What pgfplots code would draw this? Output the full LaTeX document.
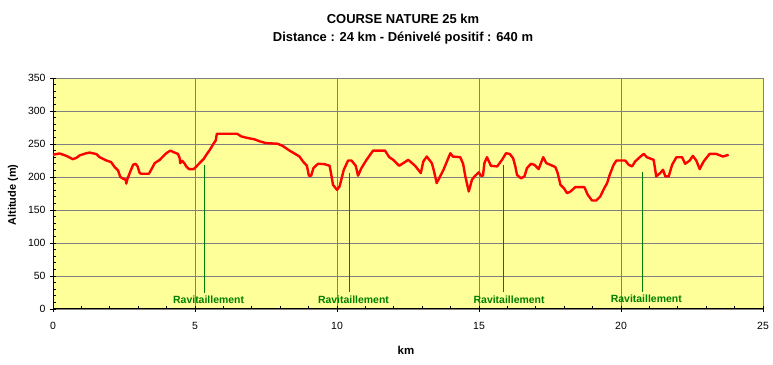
\documentclass[border=0pt]{standalone}
\usepackage{fontspec}
\setmainfont{Liberation Sans}
\usepackage{pgfplots}
\pgfplotsset{compat=1.18}
\definecolor{bgyellow}{HTML}{FFFF99}
\definecolor{gridgray}{HTML}{808080}
\definecolor{rgreen}{HTML}{008000}
\begin{document}
\begin{tikzpicture}
\path[use as bounding box] (0,0) rectangle (773bp,365bp);
\begin{axis}[
  at={(53bp,56bp)}, anchor=south west,
  scale only axis, width=710bp, height=231bp,
  xmin=0, xmax=25, ymin=0, ymax=350,
  xtick={0,5,...,25}, ytick={0,50,...,350},
  minor x tick num=4, minor y tick num=4,
  xtick pos=bottom, ytick pos=left,
  tick align=inside, major tick length=3bp, minor tick length=3bp,
  tick style={black, line width=0.8bp},
  extra x ticks={0,5,...,25}, extra x tick labels={},
  extra x tick style={tick align=outside, grid=none, major tick length=3bp},
  extra y ticks={0,50,...,350}, extra y tick labels={},
  extra y tick style={tick align=outside, grid=none, major tick length=3bp},
  grid=major, major grid style={gridgray, line width=0.8bp},
  axis x line*=bottom, axis y line*=left,
  axis line style={black, line width=1bp, -},
  axis background/.style={fill=bgyellow, draw=gridgray, line width=0.8bp},
  /pgf/number format/assume math mode=true,
  tick label style={font=\fontsize{10.5}{12}\selectfont},
  xticklabel style={yshift=-10bp},
  yticklabel style={xshift=-4bp},
  clip=false,
]
\addplot[red, line width=2.4bp, line join=round] table {
x y
0 233.7
0.23 235.7
0.47 232
0.70 227
0.82 229
0.94 232.7
1.17 236
1.29 237
1.53 234.7
1.64 230
1.88 225
2.05 222.5
2.17 215
2.29 210
2.37 200
2.49 197
2.56 196
2.58 190
2.62 197
2.72 208
2.82 218.5
2.91 220
2.98 216
3.05 206
3.11 205
3.38 205
3.52 216
3.58 221
3.76 226
3.87 231
3.99 236
4.13 240
4.28 237
4.40 235
4.46 228.6
4.48 221
4.55 224.6
4.64 220
4.69 216
4.79 212
4.95 212
5.05 216
5.16 221
5.31 227.6
5.40 233.7
5.52 241
5.63 249
5.73 255.4
5.77 265.6
6.10 265.6
6.48 265.6
6.63 261.5
6.81 259.5
7.10 257
7.28 254
7.50 251.4
7.91 250.4
8.09 247
8.33 240
8.68 231
8.80 223.6
8.94 217
9.01 202
9.09 202
9.17 213.5
9.33 220
9.56 219.5
9.74 217
9.80 203
9.86 188
10.00 180.6
10.09 185.6
10.24 211
10.39 225
10.51 225
10.66 217
10.74 202
10.86 213.5
11.04 226
11.27 240
11.69 240
11.84 230
11.98 226
12.19 217
12.51 226
12.75 217
12.95 206
13.04 223.6
13.16 231
13.34 221
13.42 208
13.51 190.7
13.63 200.8
13.75 211
13.99 236
14.08 231
14.34 230
14.44 220
14.52 200.8
14.64 178
14.75 195.7
14.84 200.8
14.99 207
15.07 202
15.14 202
15.19 221
15.28 230
15.42 217
15.64 216
15.81 226
15.95 236
16.08 235
16.20 228.6
16.28 216
16.34 203
16.48 198
16.60 201
16.69 213.5
16.83 220
16.95 218.5
17.10 212
17.26 230
17.37 221
17.51 218.5
17.69 215
17.77 206
17.87 188
17.99 183
18.10 175.5
18.22 178
18.39 184.6
18.71 184.6
18.83 173
18.98 164.4
19.13 164.4
19.27 170.5
19.41 183
19.51 190.7
19.60 203
19.74 218.5
19.84 225
20.15 225
20.27 218.5
20.39 216
20.50 223.6
20.66 230
20.80 235
20.91 230
21.15 226
21.24 201
21.38 206
21.48 211
21.56 201
21.68 201
21.80 218.5
21.95 230
22.15 230
22.26 220
22.42 225
22.53 232
22.65 225
22.77 212
22.91 223.6
23.12 235
23.35 235
23.59 231
23.79 233.7
};
\addplot[rgreen, line width=1bp] coordinates {(5.32,24) (5.32,218.5)};
\addplot[rgreen, line width=1bp] coordinates {(10.45,25) (10.45,206)};
\addplot[rgreen, line width=1bp] coordinates {(15.87,26) (15.87,218)};
\addplot[rgreen, line width=1bp] coordinates {(20.76,26) (20.76,208)};
\node[text=rgreen, font=\bfseries\fontsize{10.5}{12}\selectfont] at (axis cs:5.48,13.6) {Ravitaillement};
\node[text=rgreen, font=\bfseries\fontsize{10.5}{12}\selectfont] at (axis cs:10.58,13.6) {Ravitaillement};
\node[text=rgreen, font=\bfseries\fontsize{10.5}{12}\selectfont] at (axis cs:16.06,13.6) {Ravitaillement};
\node[text=rgreen, font=\bfseries\fontsize{10.5}{12}\selectfont] at (axis cs:20.89,15) {Ravitaillement};
\end{axis}
\node[font=\bfseries\fontsize{11.5}{13}\selectfont] at (406bp,15bp) {km};
\node[font=\bfseries\fontsize{11}{13}\selectfont, rotate=90] at (13bp,170bp) {Altitude (m)};
\node[font=\bfseries\fontsize{13}{18}\selectfont, align=center] at (403bp,336bp) {COURSE NATURE 25 km\\Distance : 24 km - Dénivelé positif : 640 m};
\end{tikzpicture}
\end{document}
